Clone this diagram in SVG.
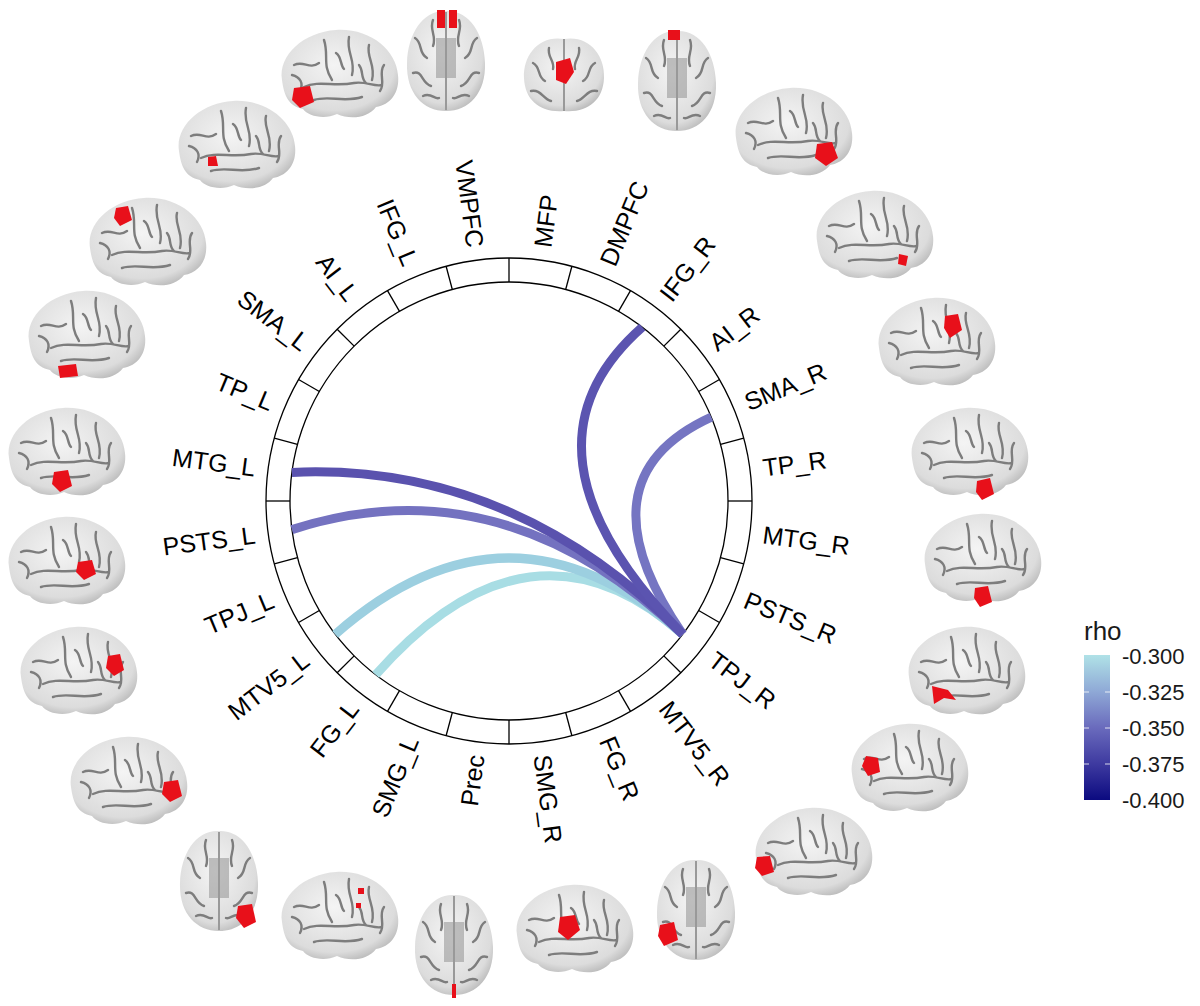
<svg xmlns="http://www.w3.org/2000/svg" width="1200" height="1006" viewBox="0 0 1200 1006">
<style>
.lbl{font-family:"Liberation Sans",Arial,sans-serif;font-size:25px;fill:#000;dominant-baseline:central}
.leg{font-family:"Liberation Sans",Arial,sans-serif;font-size:22px;fill:#1a1a1a}
.tick{stroke:#000;stroke-width:1.3}
.chord{fill:none;stroke-width:9;stroke-linecap:butt}
.sul{fill:none;stroke:#7d7d7d;stroke-width:2.4;stroke-linecap:round}
.red{fill:#e8101a}
</style>
<defs>
<linearGradient id="rho" x1="0" y1="0" x2="0" y2="1">
<stop offset="0" stop-color="#b0e2e7"/>
<stop offset="0.25" stop-color="#8fa9d6"/>
<stop offset="0.5" stop-color="#6a6bbd"/>
<stop offset="0.75" stop-color="#3e3aa0"/>
<stop offset="1" stop-color="#0b0a80"/>
</linearGradient>
<radialGradient id="bg" cx="0.45" cy="0.4" r="0.65">
<stop offset="0" stop-color="#f4f4f4"/>
<stop offset="0.8" stop-color="#dcdcdc"/>
<stop offset="1" stop-color="#b8b8b8"/>
</radialGradient>
<symbol id="lat" viewBox="0 0 128 98" width="128" height="98">
<path d="M8,55 C4,30 30,7 62,5 C96,3 122,25 124,50 C126,68 116,80 102,82 C94,93 76,95 63,89 C50,95 34,91 29,84 C14,81 10,70 8,55 Z" fill="url(#bg)"/>
<path class="sul" d="M20,40 C30,35 35,45 45,38 M50,15 C55,30 48,40 58,55 M75,12 C72,28 82,35 78,50 M95,20 C92,32 102,40 98,55 M110,40 C104,48 112,58 106,66 M30,62 C45,55 60,62 80,58 C92,56 100,62 108,60 M40,75 C55,70 70,78 88,72 M18,50 C26,52 30,58 26,66 M62,28 C68,32 66,40 70,44 M85,40 C90,46 86,52 92,58"/>
</symbol>
<symbol id="top" viewBox="0 0 86 106" width="86" height="106">
<path d="M43,3 C20,2 5,25 4,55 C3,85 20,103 43,103 C66,103 83,85 82,55 C81,25 66,2 43,3 Z" fill="url(#bg)"/>
<path d="M43,4 L43,102" stroke="#999" stroke-width="2"/>
<rect x="33" y="30" width="20" height="40" fill="#9a9a9a" opacity="0.6"/>
<path class="sul" d="M12,30 C20,35 15,45 24,50 M10,65 C20,62 18,75 28,78 M30,12 C26,22 34,28 30,38 M74,30 C66,35 71,45 62,50 M76,65 C66,62 68,75 58,78 M56,12 C60,22 52,28 56,38 M20,88 C28,84 32,92 36,90 M66,88 C58,84 54,92 50,90"/>
</symbol>
<symbol id="front" viewBox="0 0 90 82" width="90" height="82">
<path d="M45,6 C20,2 4,22 5,45 C6,68 22,80 45,78 C68,80 84,68 85,45 C86,22 70,2 45,6 Z" fill="url(#bg)"/>
<path d="M45,6 L45,78" stroke="#999" stroke-width="2"/>
<path class="sul" d="M14,30 C22,34 18,44 26,48 M12,58 C22,56 24,66 32,68 M76,30 C68,34 72,44 64,48 M78,58 C68,56 66,66 58,68 M30,15 C28,24 36,28 34,36 M60,15 C62,24 54,28 56,36"/>
</symbol>
</defs>
<rect width="1200" height="1006" fill="#fff"/>

<g id="brains">
<g id="b-VMPFC"><use href="#top" x="403" y="8"/><rect class="red" x="437" y="10" width="8" height="18"/><rect class="red" x="449" y="10" width="8" height="18"/></g>
<g id="b-MFP"><use href="#front" x="519" y="33"/><path class="red" d="M556,62 L570,58 L574,72 L566,84 L556,80 Z"/></g>
<g id="b-DMPFC"><use href="#top" x="634" y="28" width="86" height="106"/><rect class="red" x="668" y="30" width="12" height="10"/></g>
<g id="b-IFG_R"><use href="#lat" x="728" y="83"/><path class="red" d="M817,144 L832,142 L838,158 L826,166 L815,158 Z"/></g>
<g id="b-AI_R"><use href="#lat" x="809" y="186"/><path class="red" d="M899,254 L908,256 L906,266 L898,264 Z" fill="#8a0a10"/></g>
<g id="b-SMA_R"><use href="#lat" x="871" y="293"/><path class="red" d="M945,316 L958,314 L962,330 L950,338 L944,328 Z"/></g>
<g id="b-TP_R"><use href="#lat" x="904" y="403"/><path class="red" d="M977,481 L990,478 L994,494 L982,500 L976,492 Z"/></g>
<g id="b-MTG_R"><use href="#lat" x="917" y="509"/><path class="red" d="M975,588 L988,586 L992,602 L980,607 L974,598 Z"/></g>
<g id="b-PSTS_R"><use href="#lat" x="901" y="622"/><path class="red" d="M932,686 L948,690 L956,700 L944,698 L934,704 Z"/></g>
<g id="b-TPJ_R"><use href="#lat" x="844" y="719"/><path class="red" d="M866,756 L878,758 L880,772 L868,776 L862,766 Z"/></g>
<g id="b-MTV5_R"><use href="#lat" x="748" y="803"/><path class="red" d="M757,857 L770,856 L774,872 L762,876 L755,868 Z"/></g>
<g id="b-FG_R"><use href="#top" x="653" y="857"/><path class="red" d="M660,925 L674,922 L678,940 L664,946 L658,936 Z"/></g>
<g id="b-SMG_R"><use href="#lat" x="509" y="880"/><path class="red" d="M560,917 L575,915 L580,930 L568,940 L558,932 Z"/></g>
<g id="b-Prec"><use href="#top" x="411" y="892"/><rect class="red" x="452" y="984" width="4" height="14"/></g>
<g id="b-SMG_L"><use href="#lat" x="274" y="867"/><rect class="red" x="358" y="888" width="6" height="6"/><rect class="red" x="356" y="903" width="5" height="5"/></g>
<g id="b-FG_L"><use href="#top" x="176" y="828"/><path class="red" d="M238,906 L252,904 L256,922 L244,928 L236,918 Z"/></g>
<g id="b-MTV5_L"><use href="#lat" x="63" y="732"/><path class="red" d="M164,782 L178,780 L182,796 L170,802 L162,794 Z"/></g>
<g id="b-TPJ_L"><use href="#lat" x="13" y="622"/><path class="red" d="M108,656 L120,654 L124,670 L114,676 L106,668 Z"/></g>
<g id="b-PSTS_L"><use href="#lat" x="1" y="512"/><path class="red" d="M78,562 L92,560 L96,574 L84,580 L76,572 Z"/></g>
<g id="b-MTG_L"><use href="#lat" x="1" y="403"/><path class="red" d="M54,472 L68,470 L72,486 L60,492 L52,484 Z"/></g>
<g id="b-TP_L"><use href="#lat" x="21" y="286"/><path class="red" d="M58,366 L76,364 L78,376 L60,378 Z"/></g>
<g id="b-SMA_L"><use href="#lat" x="82" y="193"/><path class="red" d="M116,208 L128,206 L132,220 L120,226 L114,218 Z"/></g>
<g id="b-AI_L"><use href="#lat" x="171" y="96"/><path class="red" d="M208,157 L216,156 L218,166 L208,166 Z" fill="#8a0a10"/></g>
<g id="b-IFG_L"><use href="#lat" x="274" y="25"/><path class="red" d="M294,88 L310,86 L314,102 L300,108 L292,100 Z"/></g>
</g>

<g id="ring">
<circle cx="509" cy="501" r="243" fill="none" stroke="#000" stroke-width="1.3"/>
<circle cx="509" cy="501" r="219" fill="none" stroke="#000" stroke-width="1.3"/>
<g class="tick">
<line x1="509" y1="282" x2="509" y2="258" transform="rotate(0 509 501)"/>
<line x1="509" y1="282" x2="509" y2="258" transform="rotate(15 509 501)"/>
<line x1="509" y1="282" x2="509" y2="258" transform="rotate(30 509 501)"/>
<line x1="509" y1="282" x2="509" y2="258" transform="rotate(45 509 501)"/>
<line x1="509" y1="282" x2="509" y2="258" transform="rotate(60 509 501)"/>
<line x1="509" y1="282" x2="509" y2="258" transform="rotate(75 509 501)"/>
<line x1="509" y1="282" x2="509" y2="258" transform="rotate(90 509 501)"/>
<line x1="509" y1="282" x2="509" y2="258" transform="rotate(105 509 501)"/>
<line x1="509" y1="282" x2="509" y2="258" transform="rotate(120 509 501)"/>
<line x1="509" y1="282" x2="509" y2="258" transform="rotate(135 509 501)"/>
<line x1="509" y1="282" x2="509" y2="258" transform="rotate(150 509 501)"/>
<line x1="509" y1="282" x2="509" y2="258" transform="rotate(165 509 501)"/>
<line x1="509" y1="282" x2="509" y2="258" transform="rotate(180 509 501)"/>
<line x1="509" y1="282" x2="509" y2="258" transform="rotate(195 509 501)"/>
<line x1="509" y1="282" x2="509" y2="258" transform="rotate(210 509 501)"/>
<line x1="509" y1="282" x2="509" y2="258" transform="rotate(225 509 501)"/>
<line x1="509" y1="282" x2="509" y2="258" transform="rotate(240 509 501)"/>
<line x1="509" y1="282" x2="509" y2="258" transform="rotate(255 509 501)"/>
<line x1="509" y1="282" x2="509" y2="258" transform="rotate(270 509 501)"/>
<line x1="509" y1="282" x2="509" y2="258" transform="rotate(285 509 501)"/>
<line x1="509" y1="282" x2="509" y2="258" transform="rotate(300 509 501)"/>
<line x1="509" y1="282" x2="509" y2="258" transform="rotate(315 509 501)"/>
<line x1="509" y1="282" x2="509" y2="258" transform="rotate(330 509 501)"/>
<line x1="509" y1="282" x2="509" y2="258" transform="rotate(345 509 501)"/>
</g>
</g>

<g id="connectors">
<path class="chord" stroke="#a8dde4" d="M682.8,634.3 Q530.7,499.4 375.7,674.8"/>
<path class="chord" stroke="#9ccfe0" d="M682.8,634.3 Q509,481.7 335.2,634.3"/>
<path class="chord" stroke="#7472c0" d="M682.8,634.3 Q502.6,462 291.9,529.6"/>
<path class="chord" stroke="#5a52ae" d="M682.8,634.3 Q512.6,462.6 291.9,472.4"/>
<path class="chord" stroke="#7575c2" d="M682.8,634.3 Q576.4,478.8 711.3,417.2"/>
<path class="chord" stroke="#5b54b0" d="M682.8,634.3 Q503,450 642.3,327.2"/>
</g>

<g id="labels">
<text class="lbl" transform="translate(509 501) rotate(-82.5)" x="256">MFP</text>
<text class="lbl" transform="translate(509 501) rotate(-67.5)" x="256">DMPFC</text>
<text class="lbl" transform="translate(509 501) rotate(-52.5)" x="256">IFG_R</text>
<text class="lbl" transform="translate(509 501) rotate(-37.5)" x="256">AI_R</text>
<text class="lbl" transform="translate(509 501) rotate(-22.5)" x="256">SMA_R</text>
<text class="lbl" transform="translate(509 501) rotate(-7.5)" x="256">TP_R</text>
<text class="lbl" transform="translate(509 501) rotate(7.5)" x="256">MTG_R</text>
<text class="lbl" transform="translate(509 501) rotate(22.5)" x="256">PSTS_R</text>
<text class="lbl" transform="translate(509 501) rotate(37.5)" x="256">TPJ_R</text>
<text class="lbl" transform="translate(509 501) rotate(52.5)" x="256">MTV5_R</text>
<text class="lbl" transform="translate(509 501) rotate(67.5)" x="256">FG_R</text>
<text class="lbl" transform="translate(509 501) rotate(82.5)" x="256">SMG_R</text>
<text class="lbl" transform="translate(509 501) rotate(-82.5)" x="-256" text-anchor="end">Prec</text>
<text class="lbl" transform="translate(509 501) rotate(-67.5)" x="-256" text-anchor="end">SMG_L</text>
<text class="lbl" transform="translate(509 501) rotate(-52.5)" x="-256" text-anchor="end">FG_L</text>
<text class="lbl" transform="translate(509 501) rotate(-37.5)" x="-256" text-anchor="end">MTV5_L</text>
<text class="lbl" transform="translate(509 501) rotate(-22.5)" x="-256" text-anchor="end">TPJ_L</text>
<text class="lbl" transform="translate(509 501) rotate(-7.5)" x="-256" text-anchor="end">PSTS_L</text>
<text class="lbl" transform="translate(509 501) rotate(7.5)" x="-256" text-anchor="end">MTG_L</text>
<text class="lbl" transform="translate(509 501) rotate(22.5)" x="-256" text-anchor="end">TP_L</text>
<text class="lbl" transform="translate(509 501) rotate(37.5)" x="-256" text-anchor="end">SMA_L</text>
<text class="lbl" transform="translate(509 501) rotate(52.5)" x="-256" text-anchor="end">AI_L</text>
<text class="lbl" transform="translate(509 501) rotate(67.5)" x="-256" text-anchor="end">IFG_L</text>
<text class="lbl" transform="translate(509 501) rotate(82.5)" x="-256" text-anchor="end">VMPFC</text>
</g>

<g id="legend">
<text class="leg" x="1084" y="640" style="font-size:26px">rho</text>
<rect x="1084" y="655" width="26" height="145" fill="url(#rho)"/>
<g stroke="#ffffff" stroke-width="1" opacity="0.8">
<line x1="1084" y1="692" x2="1089" y2="692"/><line x1="1105" y1="692" x2="1110" y2="692"/>
<line x1="1084" y1="728" x2="1089" y2="728"/><line x1="1105" y1="728" x2="1110" y2="728"/>
<line x1="1084" y1="764" x2="1089" y2="764"/><line x1="1105" y1="764" x2="1110" y2="764"/>
</g>
<text class="leg" x="1122" y="664">-0.300</text>
<text class="leg" x="1122" y="700">-0.325</text>
<text class="leg" x="1122" y="736">-0.350</text>
<text class="leg" x="1122" y="772">-0.375</text>
<text class="leg" x="1122" y="808">-0.400</text>
</g>
</svg>
